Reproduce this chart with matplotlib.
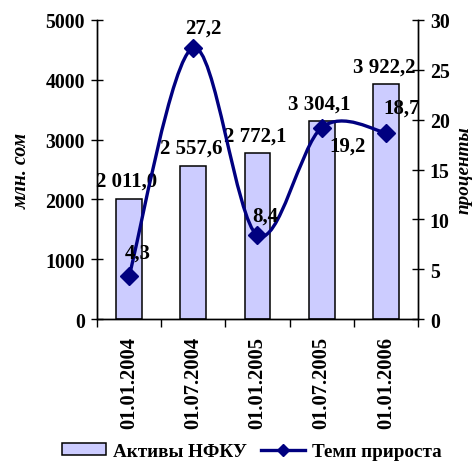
import numpy as np
import matplotlib
matplotlib.use("Agg")
import matplotlib.pyplot as plt
from matplotlib.path import Path
from matplotlib.patches import PathPatch, Patch
from matplotlib.lines import Line2D

# data
dates = ['01.01.2004', '01.07.2004', '01.01.2005', '01.07.2005', '01.01.2006']
assets = np.array([2011.0, 2557.6, 2772.1, 3304.1, 3922.2])
asset_labels = ['2 011,0', '2 557,6', '2 772,1', '3 304,1', '3 922,2']
growth = np.array([4.3, 27.2, 8.4, 19.2, 18.7])
growth_labels = ['4,3', '27,2', '8,4', '19,2', '18,7']

plt.rcParams['font.family'] = ['Liberation Serif', 'DejaVu Serif']
plt.rcParams['font.weight'] = 'bold'
fs = 14.3
navy = '#000080'
bar_fc = '#CCCCFF'

x = np.arange(len(dates))

fig = plt.figure(figsize=(4.75, 4.64), dpi=100)
ax = fig.add_axes([0.204, 0.310, 0.676, 0.645])
ax2 = ax.twinx()

ax.bar(x, assets, width=0.4, color=bar_fc, edgecolor='black', linewidth=1.1, zorder=2)
ax.set_xlim(-0.5, len(dates) - 0.5)
ax.set_ylim(0, 5000)
ax.set_yticks(np.arange(0, 5001, 1000))
ax2.set_ylim(0, 30)
ax2.set_yticks(np.arange(0, 31, 5))

for xi, v, lab in zip(x, assets, asset_labels):
    ax.annotate(lab, (xi, v), xytext=(-2, 8), textcoords='offset pixels',
                ha='center', va='bottom', fontsize=fs + 0.7, fontweight='bold')

# smoothed line (Catmull-Rom as cubic Bezier in data coords)
pts = np.column_stack([x, growth]).astype(float)
ext = np.vstack([pts[0], pts, pts[-1]])
verts = [tuple(pts[0])]
codes = [Path.MOVETO]
for i in range(len(pts) - 1):
    p0, p1, p2, p3 = ext[i], ext[i + 1], ext[i + 2], ext[i + 3]
    c1 = p1 + (p2 - p0) / 6
    c2 = p2 - (p3 - p1) / 6
    verts += [tuple(c1), tuple(c2), tuple(p2)]
    codes += [Path.CURVE4] * 3
ax2.add_patch(PathPatch(Path(verts, codes), fill=False, edgecolor=navy, lw=2.4, zorder=3))
ax2.plot(x, growth, ls='none', marker='D', ms=9.5, color=navy, zorder=4)

offsets = [(9, 24), (10, 20), (8, 20), (26, -18), (16, 25)]
for xi, v, lab, off in zip(x, growth, growth_labels, offsets):
    ax2.annotate(lab, (xi, v), xytext=off, textcoords='offset pixels',
                 ha='center', va='center', fontsize=fs + 0.7, fontweight='bold')

# axes styling
for a in (ax, ax2):
    a.spines['top'].set_visible(False)
    for s in a.spines.values():
        s.set_linewidth(1.0)
ax.set_xticks(x)
ax.set_xticklabels(dates, rotation=90, fontsize=fs + 0.5, fontweight='bold')
ax.tick_params(axis='x', which='major', length=0, pad=12)
ax.set_xticks(np.arange(-0.5, len(dates), 1), minor=True)
ax.tick_params(axis='x', which='minor', length=6, direction='out', width=1)
ax.tick_params(axis='y', direction='inout', length=9, width=1, labelsize=fs, pad=4)
ax2.tick_params(axis='y', direction='inout', length=9, width=1, labelsize=fs, pad=4)
for lab in ax.get_yticklabels() + ax2.get_yticklabels():
    lab.set_fontweight('bold')

ax.set_ylabel('млн. сом', fontsize=fs, fontstyle='italic', fontweight='bold', labelpad=10)
ax2.set_ylabel('проценты', fontsize=fs - 0.5, fontstyle='italic', fontweight='bold', labelpad=4)

handles = [Patch(facecolor=bar_fc, edgecolor='black', linewidth=1.1),
           Line2D([], [], color=navy, lw=2.4, marker='D', ms=6)]
fig.legend(handles, ['Активы НФКУ', 'Темп прироста'], loc='lower center',
           bbox_to_anchor=(0.53, 0.0), ncol=2, frameon=False, fontsize=fs - 0.5,
           borderaxespad=0.05, borderpad=0.1,
           handlelength=2.3, handleheight=0.6, columnspacing=0.7, handletextpad=0.4)

fig.savefig('out.png', dpi=100)
